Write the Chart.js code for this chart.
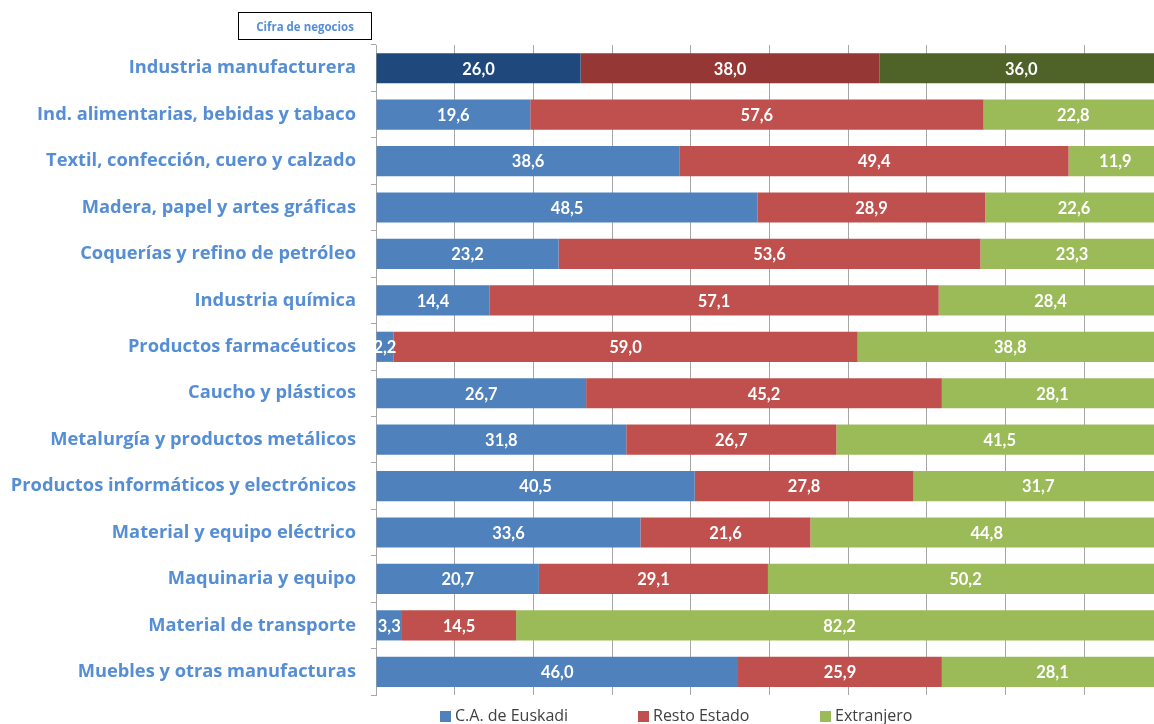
<!DOCTYPE html>
<html>
<head>
<meta charset="utf-8">
<script src="https://cdn.jsdelivr.net/npm/chart.js@4/dist/chart.umd.min.js"></script>
<style>
  html, body { margin:0; padding:0; background:#fff; overflow:hidden; }
  #wrap { position:relative; width:1164px; height:724px; }
  #title-box {
    position:absolute; left:238px; top:12px; width:134px; height:28px; box-sizing:border-box;
    border:1.5px solid #000; font:bold 11.5px "Open Sans", sans-serif; color:#558ed5;
    display:flex; align-items:center; justify-content:center;
  }
  .leg { position:absolute; top:704px; font:16px "Open Sans", sans-serif; color:#404040; white-space:nowrap; }
  .leg i { display:inline-block; width:11px; height:11px; margin-right:4px; vertical-align:-1px; }
</style>
</head>
<body>
<div id="wrap">
  <canvas id="chart" width="1164" height="724"></canvas>
  <div id="title-box">Cifra de negocios</div>
  <div class="leg" style="left:440px"><i style="background:#4f81bd"></i>C.A. de Euskadi</div>
  <div class="leg" style="left:638px"><i style="background:#c0504d"></i>Resto Estado</div>
  <div class="leg" style="left:820px"><i style="background:#9bbb59"></i>Extranjero</div>
</div>
<script>
// ── Datos ──
const sectores = [
  'Industria manufacturera',
  'Ind. alimentarias, bebidas y tabaco',
  'Textil, confección, cuero y calzado',
  'Madera, papel y artes gráficas',
  'Coquerías y refino de petróleo',
  'Industria química',
  'Productos farmacéuticos',
  'Caucho y plásticos',
  'Metalurgía y productos metálicos',
  'Productos informáticos y electrónicos',
  'Material y equipo eléctrico',
  'Maquinaria y equipo',
  'Material de transporte',
  'Muebles y otras manufacturas'
];
const euskadi    = [26.0, 19.6, 38.6, 48.5, 23.2, 14.4, 2.2, 26.7, 31.8, 40.5, 33.6, 20.7, 3.3, 46.0];
const restoEstado = [38.0, 57.6, 49.4, 28.9, 53.6, 57.1, 59.0, 45.2, 26.7, 27.8, 21.6, 29.1, 14.5, 25.9];
const extranjero = [36.0, 22.8, 11.9, 22.6, 23.3, 28.4, 38.8, 28.1, 41.5, 31.7, 44.8, 50.2, 82.2, 28.1];

// primera fila (total) en tono oscuro
function colores(base, oscuro) { return sectores.map((_, i) => i === 0 ? oscuro : base); }

// ── Etiquetas dentro de las barras ──
const etiquetas = {
  id: 'etiquetas',
  afterDatasetsDraw(chart) {
    const ctx = chart.ctx;
    ctx.save();
    ctx.font = 'bold 16.5px Lato, sans-serif';
    ctx.fillStyle = '#fff';
    ctx.textAlign = 'center';
    ctx.textBaseline = 'middle';
    chart.data.datasets.forEach((ds, di) => {
      chart.getDatasetMeta(di).data.forEach((bar, i) => {
        const { x, base, y } = bar.getProps(['x', 'base', 'y'], true);
        ctx.fillText(ds.data[i].toFixed(1).replace('.', ','), (x + base) / 2, y + 1);
      });
    });
    ctx.restore();
  }
};

new Chart(document.getElementById('chart'), {
  type: 'bar',
  data: {
    labels: sectores,
    datasets: [
      { label: 'C.A. de Euskadi', data: euskadi, backgroundColor: colores('#4f81bd', '#1f497d') },
      { label: 'Resto Estado', data: restoEstado, backgroundColor: colores('#c0504d', '#953735') },
      { label: 'Extranjero', data: extranjero, backgroundColor: colores('#9bbb59', '#4f6228') }
    ]
  },
  options: {
    indexAxis: 'y',
    responsive: false,
    animation: false,
    layout: { padding: { top: 45, bottom: 29, left: 0, right: 1 } },
    datasets: { bar: { categoryPercentage: 1, barPercentage: 0.65, borderWidth: 0 } },
    plugins: { legend: { display: false }, tooltip: { enabled: false } },
    scales: {
      x: {
        stacked: true, min: 0, max: 100,
        ticks: { display: false, stepSize: 10 },
        grid: { color: '#a6a6a6', drawTicks: false },
        border: { display: false },
        afterFit: s => { s.height = 0; }
      },
      y: {
        stacked: true,
        ticks: { color: '#558ed5', font: { family: 'Open Sans', weight: 'bold', size: 18.3 }, padding: 15 },
        grid: { drawOnChartArea: false, color: '#a6a6a6', tickLength: 5 },
        border: { color: '#a6a6a6' },
        afterFit: s => { s.width = 376; }
      }
    }
  },
  plugins: [etiquetas]
});
</script>
</body>
</html>
